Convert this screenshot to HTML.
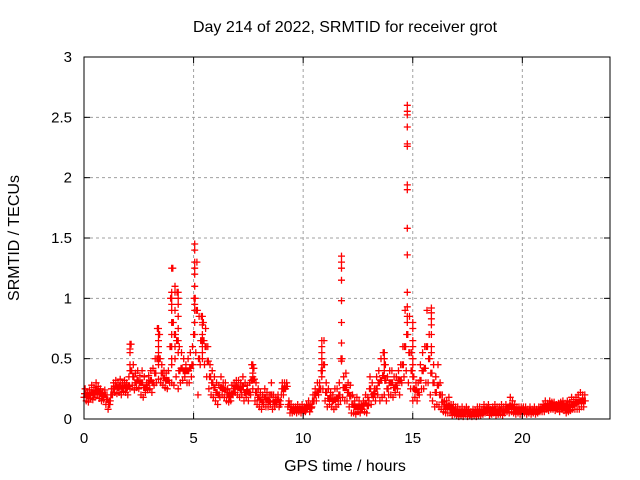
<!DOCTYPE html>
<html><head><meta charset="utf-8"><style>
body{margin:0;background:#fff}
svg{display:block;font-family:"Liberation Sans",sans-serif}
</style></head><body>
<svg id="chart" width="640" height="480" xmlns="http://www.w3.org/2000/svg">
<rect width="640" height="480" fill="#fff"/>
<text x="345" y="32" font-size="16" text-anchor="middle">Day 214 of 2022, SRMTID for receiver grot</text>
<text x="345" y="471" font-size="16" text-anchor="middle">GPS time / hours</text>
<text transform="translate(19,238) rotate(-90)" font-size="16" text-anchor="middle">SRMTID / TECUs</text>
<g id="grid"></g>
<g id="pts"></g>
<rect x="84" y="57" width="526" height="362" fill="none" stroke="#000" stroke-width="1"/>
<g id="axes"></g>
</svg>
<script>
const xTicks=[0,5,10,15,20];
const yTicks=[0,0.5,1,1.5,2,2.5,3];
const yTickLabels=["0","0.5","1","1.5","2","2.5","3"];
const step=0.1;
const lo=[.18,.15,.14,.17,.16,.18,.2,.17,.15,.16,
.12,.08,.15,.2,.22,.21,.22,.2,.23,.22,
.2,.25,.28,.24,.26,.25,.2,.18,.22,.24,
.25,.22,.28,.3,.33,.3,.28,.26,.25,.3,
.3,.28,.35,.25,.3,.32,.35,.3,.3,.35,
.7,.55,.2,.45,.5,.45,.35,.25,.2,.18,
.15,.12,.18,.2,.18,.15,.14,.15,.2,.22,
.2,.18,.2,.15,.18,.15,.2,.25,.15,.12,
.1,.08,.12,.1,.1,.12,.08,.1,.12,.1,
.2,.2,.25,.1,.05,.05,.06,.05,.06,.05,
.05,.06,.08,.06,.1,.15,.15,.2,.25,.25,
.15,.1,.12,.1,.08,.1,.12,.15,.18,.15,
.15,.1,.05,.05,.04,.06,.05,.08,.06,.05,
.15,.12,.18,.15,.2,.15,.18,.2,.15,.2,
.2,.18,.22,.25,.2,.3,.35,.4,.3,.25,
.15,.18,.15,.2,.25,.25,.3,.3,.2,.15,
.1,.12,.1,.08,.06,.05,.05,.05,.03,.04,
.03,.02,.03,.02,.04,.02,.03,.02,.03,.02,
.03,.03,.04,.05,.06,.03,.04,.05,.03,.04,
.04,.03,.05,.06,.05,.06,.05,.04,.05,.04,
.04,.05,.04,.05,.04,.05,.04,.05,.06,.06,
.06,.08,.07,.08,.08,.07,.08,.06,.08,.07,
.05,.06,.07,.08,.08,.08,.08,.1,.1];
const mid=[.21,.19,.2,.22,.21,.24,.23,.21,.19,.2,
.16,.12,.2,.25,.27,.26,.27,.25,.28,.26,
.27,.4,.35,.3,.32,.3,.3,.26,.26,.3,
.32,.3,.38,.5,.5,.38,.34,.32,.32,.6,
.8,.7,.65,.4,.42,.4,.4,.4,.42,.45,
1.0,.9,.5,.65,.65,.6,.48,.35,.3,.26,
.22,.2,.26,.25,.24,.2,.18,.21,.25,.27,
.26,.24,.27,.22,.23,.22,.32,.33,.22,.18,
.16,.14,.18,.16,.15,.2,.14,.14,.16,.12,
.25,.25,.27,.12,.08,.07,.08,.08,.08,.08,
.07,.09,.11,.09,.15,.2,.22,.25,.4,.45,
.22,.17,.17,.15,.16,.17,.2,.5,.26,.26,
.22,.19,.12,.1,.1,.1,.08,.11,.13,.11,
.25,.2,.21,.25,.3,.32,.36,.32,.25,.3,
.3,.26,.28,.32,.32,.45,.6,.7,.55,.4,
.25,.24,.22,.32,.4,.42,.6,.5,.38,.3,
.22,.28,.2,.14,.1,.1,.11,.08,.07,.07,
.06,.05,.06,.05,.07,.05,.04,.05,.05,.06,
.06,.05,.08,.07,.09,.05,.07,.08,.06,.07,
.08,.06,.08,.08,.11,.1,.08,.07,.07,.07,
.07,.07,.06,.07,.06,.07,.06,.07,.08,.09,
.1,.1,.11,.11,.11,.1,.1,.1,.11,.1,
.1,.1,.12,.12,.13,.14,.15,.15,.15];
const hi=[.25,.22,.24,.28,.26,.3,.27,.25,.22,.24,
.2,.15,.25,.3,.32,.3,.33,.3,.32,.3,
.35,.62,.45,.38,.4,.36,.4,.35,.3,.36,
.4,.42,.5,.75,.7,.45,.4,.38,.4,1.0,
1.25,1.1,1.05,.6,.55,.5,.45,.5,.55,.6,
1.45,1.3,.85,.85,.8,.75,.6,.45,.4,.35,
.3,.28,.35,.3,.3,.25,.22,.28,.3,.32,
.32,.3,.35,.3,.28,.3,.45,.42,.3,.25,
.22,.2,.25,.22,.2,.3,.2,.18,.2,.15,
.3,.3,.3,.15,.12,.1,.1,.12,.1,.12,
.1,.12,.15,.12,.2,.25,.3,.3,.55,.65,
.3,.25,.22,.2,.25,.25,.3,1.35,.35,.38,
.3,.28,.2,.15,.18,.15,.12,.15,.2,.18,
.35,.3,.25,.35,.4,.5,.55,.45,.35,.4,
.4,.35,.35,.4,.45,.6,.9,2.6,.85,.55,
.35,.3,.3,.45,.55,.6,.9,.7,.55,.45,
.35,.45,.3,.2,.15,.15,.18,.12,.12,.1,
.1,.08,.1,.08,.1,.08,.06,.08,.07,.1,
.1,.08,.12,.1,.12,.08,.1,.12,.1,.1,
.12,.1,.12,.1,.18,.15,.12,.1,.1,.1,
.1,.1,.08,.1,.08,.1,.08,.1,.1,.12,
.15,.13,.15,.14,.14,.12,.13,.14,.15,.13,
.15,.14,.18,.16,.18,.2,.22,.2,.2];
const spikeT=[4,4,4,4,4,4,4,4,4,4,
5.05,5.05,5.05,5.05,5.05,5.05,5.05,5.05,5.05,5.05,5.05,
11.75,11.75,11.75,11.75,11.75,11.75,11.75,11.75,
14.75,14.75,14.75,14.75,14.75,14.75,14.75,14.75,14.75,14.75,14.75,14.75,14.75,14.75,14.75,
15.85,15.85,15.85,15.85,15.85,15.85,
10.85,10.85,10.85,10.85,10.85,10.85,10.85,
2.1,2.1,2.1,2.1,2.1,
3.4,3.4,3.4,3.4,3.4,3.4,3.4,
5.4,5.4,5.4,5.4,5.4,5.4,5.4,5.4,
4.3,4.3,4.3,4.3,4.3,4.3,4.3,
4.15,4.15,4.15,4.15,4.15,4.15,
15,15,15,15,15,15,15,
7.7,7.7,7.7,7.7,
13.7,13.7,13.7,13.7];
const spikeV=[1.25,1.05,1.0,.95,.9,.8,.7,.6,.5,.45,
1.45,1.4,1.3,1.25,1.2,1.1,1.0,.95,.9,.8,.7,
1.35,1.3,1.25,1.15,.98,.8,.63,.48,
2.6,2.55,2.52,2.42,2.28,2.26,1.94,1.9,1.58,1.36,1.05,.93,.85,.8,.7,
.92,.88,.83,.78,.7,.6,
.65,.6,.55,.5,.45,.4,.35,
.62,.58,.55,.45,.4,
.75,.7,.65,.6,.55,.5,.45,
.85,.8,.78,.7,.65,.6,.55,.5,
1.05,1.0,.95,.85,.75,.65,.55,
1.1,1.05,.9,.7,.6,.5,
.8,.75,.65,.6,.5,.45,.35,
.45,.42,.38,.35,
.55,.5,.45,.4];
const X0=84,X1=610,Y0=419,Y1=57,XMAX=24,YMAX=3;
function xs(t){return X0+(X1-X0)*t/XMAX;}
function ys(v){return Y0-(Y0-Y1)*v/YMAX;}
const NS="http://www.w3.org/2000/svg";
const grid=document.getElementById('grid'),axes=document.getElementById('axes'),pts=document.getElementById('pts');
function mk(tag,attrs,parent){const e=document.createElementNS(NS,tag);for(const k in attrs)e.setAttribute(k,attrs[k]);parent.appendChild(e);return e;}
xTicks.forEach(t=>{
  const x=xs(t);
  if(t>0){const g=mk('line',{x1:x,x2:x,y1:Y1,y2:Y0,stroke:'#a0a0a0','stroke-dasharray':'3,3'},grid);
  
  }
  mk('line',{x1:x,x2:x,y1:Y0,y2:Y0-6,stroke:'#000'},axes);
  mk('line',{x1:x,x2:x,y1:Y1,y2:Y1+6,stroke:'#000'},axes);
  const tx=mk('text',{x:x,y:Y0+24,'font-size':15,'text-anchor':'middle'},axes);
  tx.textContent=String(t);
  
  
});
yTicks.forEach((v,i)=>{
  const y=ys(v);
  if(v>0&&v<YMAX){const g=mk('line',{x1:X0,x2:X1,y1:y,y2:y,stroke:'#a0a0a0','stroke-dasharray':'3,3'},grid);
  
  }
  mk('line',{x1:X0,x2:X0+6,y1:y,y2:y,stroke:'#000'},axes);
  mk('line',{x1:X1,x2:X1-6,y1:y,y2:y,stroke:'#000'},axes);
  const tx=mk('text',{x:X0-12,y:y+5,'font-size':15,'text-anchor':'end'},axes);
  tx.textContent=yTickLabels[i];
  
  
});
let d='';
function plus(t,v){const x=xs(t),y=ys(v);d+=`M${(x-3.5).toFixed(1)} ${y.toFixed(1)}h7M${x.toFixed(1)} ${(y-3.5).toFixed(1)}v7`;}
lo.forEach((v,i)=>plus(i*step,v));
mid.forEach((v,i)=>plus(i*step+0.025,v));
hi.forEach((v,i)=>plus(i*step+0.05,v));
mid.forEach((v,i)=>plus(i*step+0.075,v));
spikeT.forEach((t,i)=>plus(t,spikeV[i]));
const p=mk('path',{d:d,stroke:'#ff0000','stroke-width':1.3,fill:'none'},pts);


</script>
</body></html>
